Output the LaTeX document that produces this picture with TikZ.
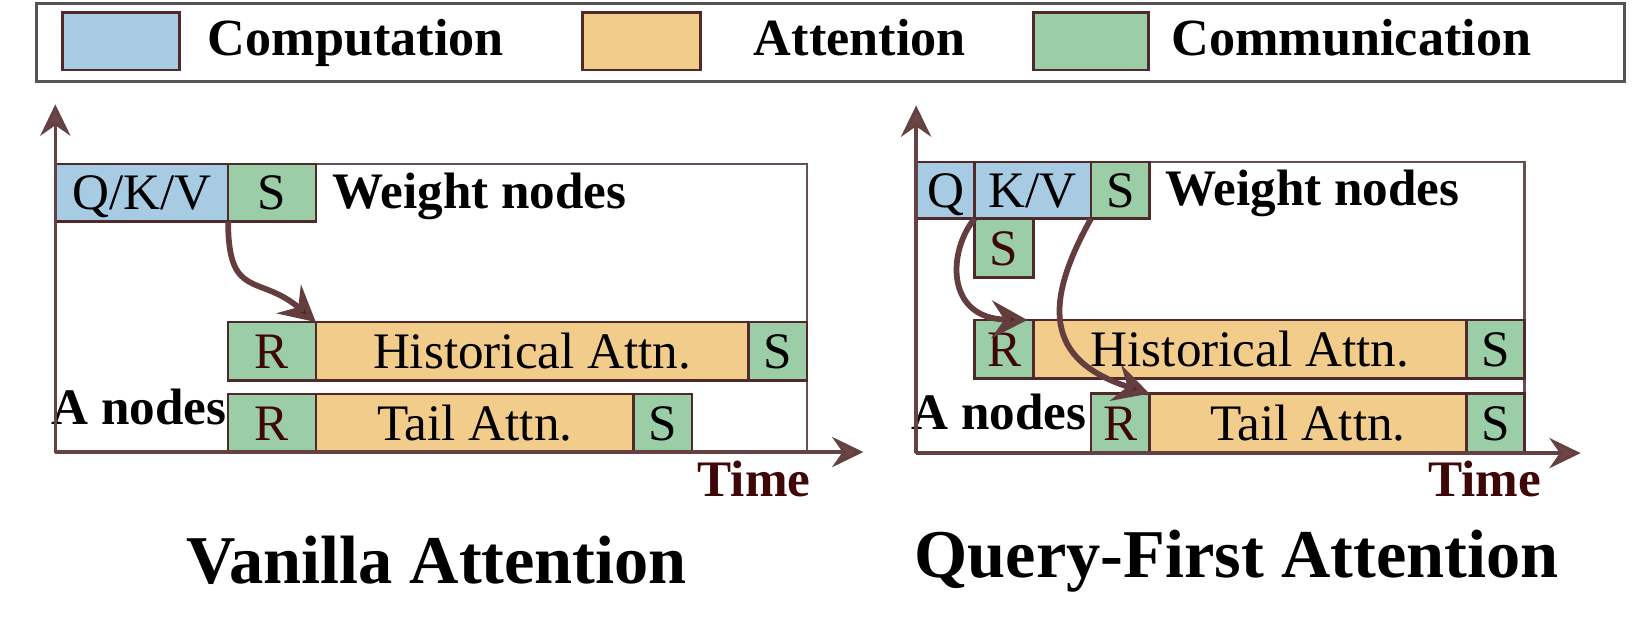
\documentclass[tikz,border=0pt]{standalone}
\usepackage{fontspec}
\setmainfont{Liberation Serif}
\usetikzlibrary{arrows.meta}
\definecolor{cblue}{RGB}{166,203,227}
\definecolor{corange}{RGB}{241,204,139}
\definecolor{cgreen}{RGB}{155,205,166}
\definecolor{boxline}{RGB}{80,42,42}
\definecolor{frameline}{RGB}{105,80,80}
\definecolor{axisline}{RGB}{100,66,66}
\definecolor{axisfill}{RGB}{110,70,70}
\definecolor{arrowline}{RGB}{100,62,62}
\definecolor{arrowfill}{RGB}{80,40,40}
\definecolor{legline}{RGB}{85,85,85}
\definecolor{maroonc}{RGB}{62,8,8}
\begin{document}
\begin{tikzpicture}[x=1pt,y=-1pt,
  bx/.style={draw=boxline,line width=2.5pt,inner sep=0pt,outer sep=0pt,text height=33pt,text depth=0pt,font=\fontsize{49}{49}\selectfont},
  comp/.style={bx,fill=cblue},
  att/.style={bx,fill=corange},
  com/.style={bx,fill=cgreen},
  lbl/.style={inner sep=0pt,anchor=base west,font=\bfseries\fontsize{49}{49}\selectfont},
  leglbl/.style={inner sep=0pt,anchor=base west,font=\bfseries\fontsize{50}{50}\selectfont},
  ttl/.style={inner sep=0pt,anchor=base west,font=\bfseries\fontsize{65.5}{65.5}\selectfont},
  axisarrow/.style={draw=axisline,line width=3.2pt,-{Stealth[length=30pt,width=29pt,inset=10pt,fill=axisfill]}},
  frm/.style={draw=frameline,line width=2.5pt,inner sep=0pt,outer sep=0pt},
  flow/.style={draw=arrowline,line width=5.5pt,-{Stealth[length=34pt,width=36pt,inset=12pt,fill=arrowfill]}},
  swatch/.style={draw=boxline,line width=2.5pt,inner sep=0pt,minimum height=55pt}
]
\useasboundingbox (0,0) rectangle (1568,596);

% legend
\node[draw=legline,line width=3pt,inner sep=0pt,minimum width=1521pt,minimum height=75pt] (legend) at (795.5,40.5) {};
\node[swatch,fill=cblue,minimum width=112pt] (lgcomp) at (116,39.5) {};
\node[leglbl] (lgcompt) at (199,52.7) {Computation};
\node[swatch,fill=corange,minimum width=113pt] (lgatt) at (614.5,39.5) {};
\node[leglbl] (lgattt) at (722,52.7) {Attention};
\node[swatch,fill=cgreen,minimum width=110pt] (lgcom) at (1045,39.5) {};
\node[leglbl] (lgcomt) at (1122,52.7) {Communication};

% ===== Vanilla Attention =====
\node[frm,minimum width=720pt,minimum height=276pt] (frame1) at (413,295) {};
\node[comp,minimum width=165.5pt,minimum height=55pt] (qkv) at (135.75,184.5) {Q/K/V};
\node[com,minimum width=84pt,minimum height=55pt] (s1) at (260.5,184.5) {S};
\node[com,minimum width=84pt,minimum height=56pt,text=maroonc] (r1) at (260.5,336.5) {R};
\node[att,minimum width=414.5pt,minimum height=56pt] (ha1) at (509.75,336.5) {Historical Attn.};
\node[com,minimum width=56pt,minimum height=56pt] (hs1) at (745,336.5) {S};
\node[com,minimum width=84pt,minimum height=55.5pt,text=maroonc] (r2) at (260.5,405.25) {R};
\node[att,minimum width=304.5pt,minimum height=55.5pt] (ta1) at (454.75,405.25) {Tail Attn.};
\node[com,minimum width=56pt,minimum height=55.5pt] (ts1) at (635,405.25) {S};
\node[lbl] (wn1) at (318,199.5) {Weight nodes};
\node[lbl] (an1) at (49,407) {A nodes};
\node[lbl,text=maroonc] (time1) at (668,476) {Time};
\coordinate (o1) at (53,433);
\coordinate (y1) at (53,100);
\coordinate (x1) at (827,433);
\draw[axisarrow] (o1) -- (y1);
\draw[axisarrow] (o1) -- (x1);
\draw[flow] (qkv.south east) .. controls (218.5,288) and (248,262) .. (ha1.north west);
\node[ttl] (t1) at (178,559) {Vanilla Attention};

% ===== Query-First Attention =====
\node[frm,minimum width=582pt,minimum height=279pt] (frame2) at (1169,294.5) {};
\node[comp,minimum width=55.5pt,minimum height=54.5pt] (q) at (905.75,182.25) {Q};
\node[comp,minimum width=111.5pt,minimum height=54.5pt] (kv) at (989.25,182.25) {K/V};
\node[com,minimum width=56pt,minimum height=54.5pt] (s2) at (1073,182.25) {S};
\node[com,minimum width=56.5pt,minimum height=56.5pt,text=maroonc] (s3) at (961.75,237.75) {S};
\node[com,minimum width=56.5pt,minimum height=56pt,text=maroonc] (r3) at (961.75,334.5) {R};
\node[att,minimum width=414.5pt,minimum height=56pt] (ha3) at (1197.25,334.5) {Historical Attn.};
\node[com,minimum width=55.5pt,minimum height=56pt] (hs3) at (1432.25,334.5) {S};
\node[com,minimum width=56pt,minimum height=57pt,text=maroonc] (r4) at (1073,405.5) {R};
\node[att,minimum width=303.5pt,minimum height=57pt] (ta3) at (1252.75,405.5) {Tail Attn.};
\node[com,minimum width=55.5pt,minimum height=57pt] (ts3) at (1432.25,405.5) {S};
\node[lbl] (wn2) at (1116,197) {Weight nodes};
\node[lbl] (an2) at (873,411) {A nodes};
\node[lbl,text=maroonc] (time2) at (1368,476) {Time};
\coordinate (o2) at (877.5,434);
\coordinate (y2) at (877.5,101);
\coordinate (x2) at (1514,434);
\draw[axisarrow] (o2) -- (y2);
\draw[axisarrow] (o2) -- (x2);
\draw[flow] (q.south east) .. controls (908,240) and (905,305) .. ([xshift=-6pt]r3.north east);
\draw[flow] (kv.south east) .. controls (1000,290) and (1000,345) .. (r4.north east);
\node[ttl] (t2) at (876,553) {Query-First Attention};
\end{tikzpicture}
\end{document}
